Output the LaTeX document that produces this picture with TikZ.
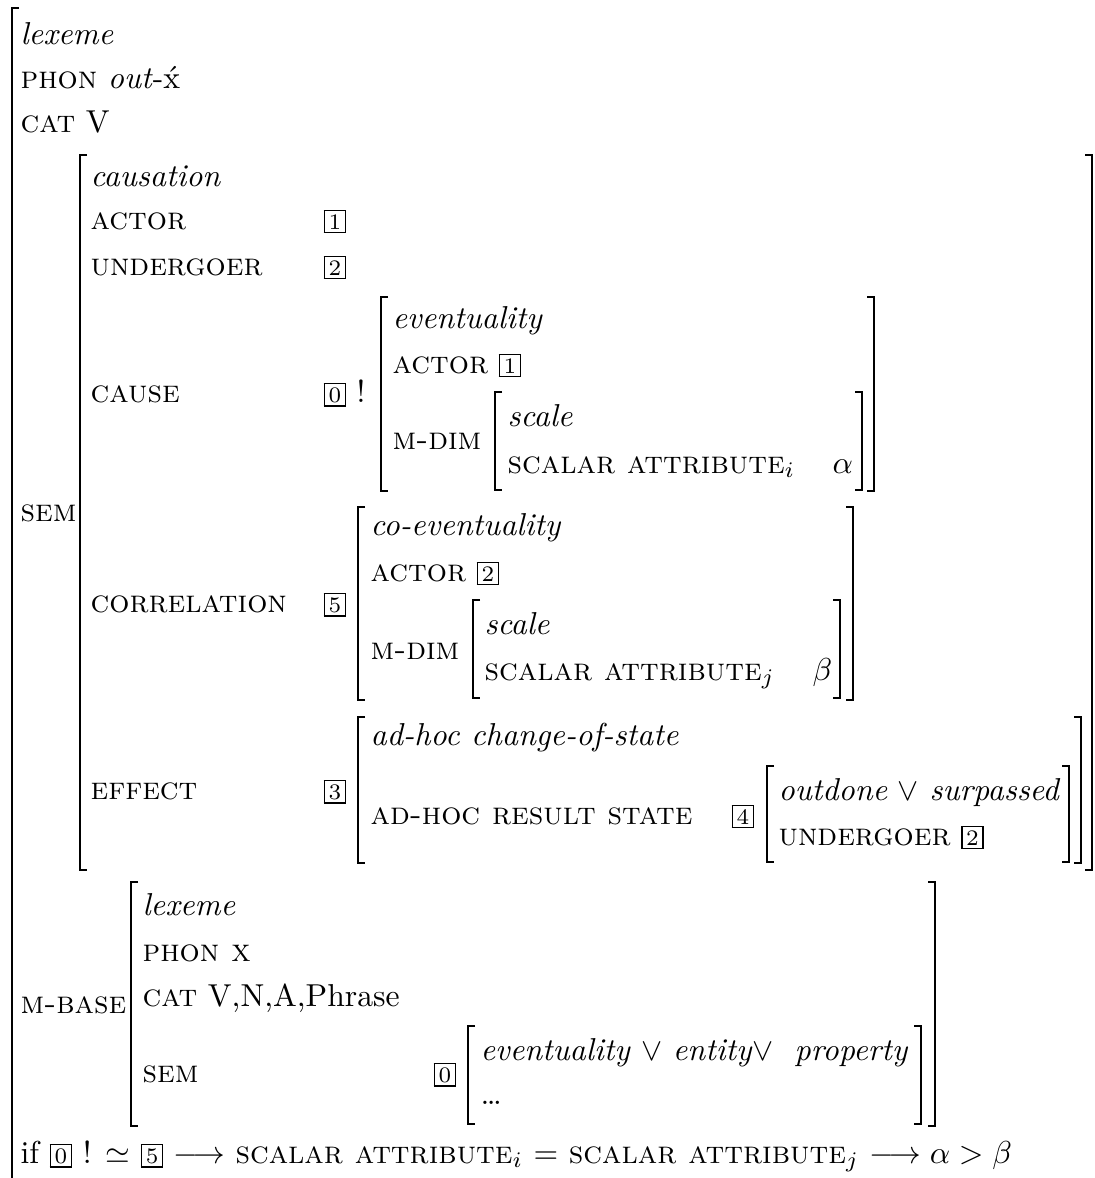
\documentclass[tikz,border=0pt]{standalone}
\usepackage{tikz}
\usepackage{amssymb}
\newcommand{\avmtag}[1]{{\setlength{\fboxsep}{0.9pt}\setlength{\fboxrule}{0.5pt}\fbox{\makebox[4.3pt]{\scriptsize #1}}}}

\begin{document}
\begin{tikzpicture}[x=0.3155pt,y=-0.3155pt,every node/.style={inner sep=0pt,anchor=base west},brk/.style={line width=0.8pt}]
\useasboundingbox (0,0) rectangle (1095,1178);
\node (lex) at (20,44) {\textit{lexeme}};
\node (phon) at (20,88) {\textsc{phon} \textit{out}-\'x};
\node (cat) at (20,132) {\textsc{cat} V};
\node (sem) at (20,521) {\textsc{sem}};
\node (caus) at (90,186) {\textit{causation}};
\node (actor) at (90,229) {\textsc{actor}};
\node (actval) at (323,229) {\avmtag{1}};
\node (und) at (90,275) {\textsc{undergoer}};
\node (undval) at (323,275) {\avmtag{2}};
\node (cause) at (90,402) {\textsc{cause}};
\node (causeval) at (323,402) {\avmtag{0}};
\node (bang) at (356,402) {!};
\node (corr) at (90,612) {\textsc{correlation}};
\node (corrval) at (323,612) {\avmtag{5}};
\node (eff) at (90,799) {\textsc{effect}};
\node (effval) at (323,799) {\avmtag{3}};
\node (ev) at (392,328) {\textit{eventuality}};
\node (evact) at (392,373) {\textsc{actor} \avmtag{1}};
\node (evdim) at (392,449) {\textsc{m-dim}};
\node (evsc) at (507,426) {\textit{scale}};
\node (evattr) at (507,473) {\textsc{scalar attribute}$_i$};
\node (alpha) at (832,473) {$\alpha$};
\node (coev) at (370,535) {\textit{co-eventuality}};
\node (coact) at (370,581) {\textsc{actor} \avmtag{2}};
\node (codim) at (370,659) {\textsc{m-dim}};
\node (cosc) at (484,634) {\textit{scale}};
\node (coattr) at (484,680) {\textsc{scalar attribute}$_j$};
\node (beta) at (812,680) {$\beta$};
\node (adhoc) at (370,745) {\textit{ad-hoc change-of-state}};
\node (res) at (370,824) {\textsc{ad-hoc result state}};
\node (resval) at (731,824) {\avmtag{4}};
\node (outd) at (778,800) {\textit{outdone} $\vee$ \textit{surpassed}};
\node (resund) at (778,845) {\textsc{undergoer} \avmtag{2}};
\node (mbase) at (20,1013) {\textsc{m-base}};
\node (blex) at (142,915) {\textit{lexeme}};
\node (bphon) at (142,961) {\textsc{phon x}};
\node (bcat) at (142,1006) {\textsc{cat} V,N,A,Phrase};
\node (bsem) at (142,1082) {\textsc{sem}};
\node (bsemval) at (433,1082) {\avmtag{0}};
\node (bsort) at (480,1060) {\textit{eventuality} $\vee$ \textit{entity}$\vee$\ \ \textit{property}};
\node (bdots) at (480,1104) {\dots};
\node (cond) at (20,1163) {if \avmtag{0} ! $\simeq$ \avmtag{5} $\longrightarrow$ \textsc{scalar attribute}$_i$ $=$ \textsc{scalar attribute}$_j$ $\longrightarrow \alpha > \beta$};
\begin{scope}[brk]
\draw (19,8) -- (12,8) -- (12,1178);
\draw (87,155) -- (80,155) -- (80,870) -- (87,870);
\draw (1085,155) -- (1092,155) -- (1092,870) -- (1085,870);
\draw (388,297) -- (381,297) -- (381,491) -- (388,491);
\draw (867,297) -- (874,297) -- (874,491) -- (867,491);
\draw (502,392) -- (495,392) -- (495,490) -- (502,490);
\draw (855,392) -- (862,392) -- (862,490) -- (855,490);
\draw (365,507) -- (358,507) -- (358,700) -- (365,700);
\draw (846,507) -- (853,507) -- (853,700) -- (846,700);
\draw (480,600) -- (473,600) -- (473,698) -- (480,698);
\draw (833,600) -- (840,600) -- (840,698) -- (833,698);
\draw (365,717) -- (358,717) -- (358,863) -- (365,863);
\draw (1074,717) -- (1081,717) -- (1081,863) -- (1074,863);
\draw (774,766) -- (767,766) -- (767,862) -- (774,862);
\draw (1062,766) -- (1069,766) -- (1069,862) -- (1062,862);
\draw (138,882) -- (131,882) -- (131,1126) -- (138,1126);
\draw (928,882) -- (935,882) -- (935,1126) -- (928,1126);
\draw (475,1026) -- (468,1026) -- (468,1124) -- (475,1124);
\draw (914,1026) -- (921,1026) -- (921,1124) -- (914,1124);
\end{scope}
\end{tikzpicture}
\end{document}
